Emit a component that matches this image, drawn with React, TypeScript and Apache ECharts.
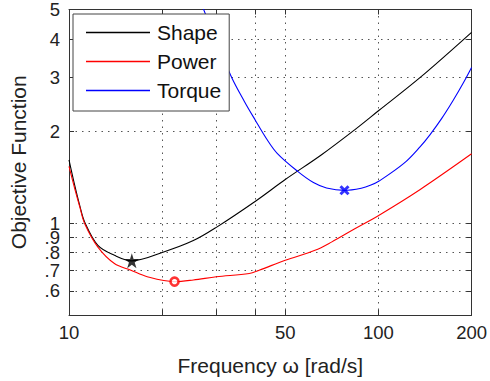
import React, { useEffect, useRef } from 'react';
import * as echarts from 'echarts';

// ---- data ----
const shapeFreq = [10, 10.45, 10.84, 11.25, 12.4, 14.02, 15.96, 20.23, 25.23, 29.93, 40.15, 50, 65.5, 83.6, 100.5, 136.5, 200];
const shapeObj = [1.61, 1.32, 1.138, 1.005, 0.845, 0.784, 0.752, 0.804, 0.876, 0.968, 1.181, 1.388, 1.673, 2.015, 2.339, 2.997, 4.21];

const powerFreq = [10, 10.45, 10.84, 11.25, 12.4, 14.02, 15.85, 17.9, 21.93, 25.23, 29.93, 38.24, 41.16, 50, 62.37, 70.5, 83.6, 100.5, 136.5, 200];
const powerObj = [1.532, 1.288, 1.127, 0.993, 0.834, 0.737, 0.701, 0.667, 0.643, 0.651, 0.667, 0.684, 0.701, 0.755, 0.814, 0.866, 0.956, 1.061, 1.288, 1.685];

const torqueFreq = [26.16, 27.15, 30.3, 33.58, 36.88, 40, 43.43, 47.08, 54.83, 61.65, 67.96, 77.7, 88, 94.6, 100.5, 120.8, 136.5, 146.9, 160, 174.3, 188, 200];
const torqueObj = [5.59, 5.04, 3.824, 2.99, 2.501, 2.171, 1.891, 1.691, 1.476, 1.357, 1.303, 1.279, 1.3, 1.331, 1.372, 1.567, 1.779, 1.948, 2.196, 2.518, 2.872, 3.23];

// optimum markers [frequency, objective]
const shapeOpt = [15.96, 0.752];
const powerOpt = [21.93, 0.643];
const torqueOpt = [77.7, 1.28];

const seriesNames = ['Shape', 'Power', 'Torque'];
const xLabelValues = [10, 50, 100, 200];
const xGridValues = [20, 30, 40, 50, 100];
const yLabelValues = [0.6, 0.7, 0.8, 0.9, 1, 2, 3, 4, 5];
const yGridValues = [0.6, 0.7, 0.8, 0.9, 1, 2, 3, 4];

const FONT = "'Liberation Sans', Arial, Helvetica, sans-serif";
const STAR = 'path://M50,0 L61.2,34.5 L97.6,34.5 L68.2,55.9 L79.4,90.5 L50,69.1 L20.6,90.5 L31.8,55.9 L2.4,34.5 L38.8,34.5 Z';
const CROSS = 'path://M0,0 L10,10 M10,0 L0,10';

const pairs = (xs: number[], ys: number[]) => xs.map((x, i) => [x, ys[i]]);

export default function App() {
  const ref = useRef<HTMLDivElement>(null);
  useEffect(() => {
    const chart = echarts.init(ref.current!, null, { renderer: 'svg' });
    const axisLine = { show: true, onZero: false, lineStyle: { color: '#333', width: 1 } };
    const split = { show: true, lineStyle: { color: '#555', width: 1, type: [1.5, 5] } };
    const lineSeries = (name: string, xs: number[], ys: number[], color: string) => ({
      name, type: 'line', data: pairs(xs, ys), symbol: 'none', showSymbol: false,
      smooth: 0.35, color, lineStyle: { color, width: 1.1 }, clip: true,
    });
    chart.setOption({
      animation: false,
      textStyle: { fontFamily: FONT },
      grid: { left: 64, right: 18, top: 8, bottom: 64, containLabel: false },
      legend: {
        data: seriesNames.map((n) => ({ name: n, icon: 'rect' })),
        orient: 'vertical',
        left: 73,
        top: 14,
        padding: [8, 8, 10, 13],
        itemWidth: 64,
        itemHeight: 1.3,
        itemGap: 8,
        backgroundColor: '#fff',
        borderColor: '#444',
        borderWidth: 1,
        selectedMode: false,
        textStyle: { fontSize: 21, lineHeight: 21, color: '#111', fontFamily: FONT, padding: [0, 0, 0, 2] },
      },
      xAxis: [
        {
          type: 'log', logBase: 10, min: 10, max: 200, position: 'bottom',
          axisLine,
          axisTick: { show: true, inside: true, length: 5, customValues: xGridValues, lineStyle: { color: '#333' } },
          axisLabel: {
            customValues: xLabelValues, color: '#222', fontSize: 18.5, margin: 8, fontFamily: FONT,
            formatter: (v: number) => String(Math.round(v)),
          },
          splitLine: split,
          minorTick: { show: false },
          name: 'Frequency ω [rad/s]',
          nameLocation: 'middle',
          nameGap: 40,
          nameTextStyle: { fontSize: 21, color: '#222', fontFamily: FONT },
        },
        {
          type: 'log', logBase: 10, min: 10, max: 200, position: 'top',
          axisLine,
          axisTick: { show: true, inside: true, length: 5, customValues: xGridValues, lineStyle: { color: '#333' } },
          axisLabel: { show: false },
          splitLine: { show: false },
        },
      ],
      yAxis: [
        {
          type: 'log', logBase: 10, min: 0.5, max: 5, position: 'left',
          axisLine,
          axisTick: { show: true, inside: true, length: 5, customValues: yGridValues, lineStyle: { color: '#333' } },
          axisLabel: {
            customValues: yLabelValues, color: '#222', fontSize: 18.5, margin: 9, fontFamily: FONT,
            formatter: (v: number) => (v < 0.95 ? '.' + Math.round(v * 10) : String(Math.round(v))),
          },
          splitLine: split,
          minorTick: { show: false },
          name: 'Objective Function',
          nameLocation: 'middle',
          nameGap: 40,
          nameTextStyle: { fontSize: 21, color: '#222', fontFamily: FONT },
        },
        {
          type: 'log', logBase: 10, min: 0.5, max: 5, position: 'right',
          axisLine,
          axisTick: { show: true, inside: true, length: 5, customValues: yGridValues, lineStyle: { color: '#333' } },
          axisLabel: { show: false },
          splitLine: { show: false },
        },
      ],
      series: [
        lineSeries('Shape', shapeFreq, shapeObj, '#000'),
        lineSeries('Power', powerFreq, powerObj, '#f00'),
        lineSeries('Torque', torqueFreq, torqueObj, '#00f'),
        {
          type: 'scatter', data: [shapeOpt], symbol: STAR, symbolSize: 15, z: 5,
          itemStyle: { color: '#000' },
        },
        {
          type: 'scatter', data: [powerOpt], symbol: 'circle', symbolSize: 8, z: 5,
          itemStyle: { color: '#fff', borderColor: '#f00', borderWidth: 2.6 },
        },
        {
          type: 'scatter', data: [torqueOpt], symbol: CROSS, symbolSize: 8, z: 5,
          itemStyle: { color: '#00f', borderColor: '#00f', borderWidth: 3 },
        },
      ],
    });
    return () => chart.dispose();
  }, []);
  return <div ref={ref} style={{ position: 'absolute', left: 0, top: 0, width: 490, height: 381 }} />;
}
